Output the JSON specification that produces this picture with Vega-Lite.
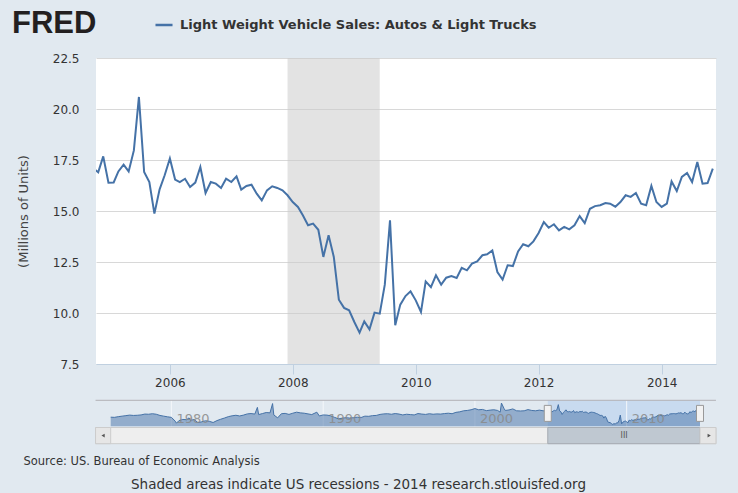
{
  "$schema": "https://vega.github.io/schema/vega-lite/v6.json",
  "width": 620,
  "height": 306,
  "autosize": {"type": "none"},
  "padding": {"left": 96, "top": 58, "right": 22, "bottom": 129},
  "background": "#e1e9f0",
  "config": {"view": {"fill": "#ffffff", "stroke": null}, "font": "DejaVu Sans"},
  "datasets": {
    "one": [{}],
    "rec": [{"start": "2007-12-01", "end": "2009-06-01"}],
    "decades": [
      {"d": "1980-01-01", "label": "1980"},
      {"d": "1990-01-01", "label": "1990"},
      {"d": "2000-01-01", "label": "2000"},
      {"d": "2010-01-01", "label": "2010"}
    ],
    "main": [
      {"date": "2004-10-01", "value": 17.1},
      {"date": "2004-11-01", "value": 16.9},
      {"date": "2004-12-01", "value": 17.68},
      {"date": "2005-01-01", "value": 16.39},
      {"date": "2005-02-01", "value": 16.4},
      {"date": "2005-03-01", "value": 16.94},
      {"date": "2005-04-01", "value": 17.27},
      {"date": "2005-05-01", "value": 16.94},
      {"date": "2005-06-01", "value": 17.97},
      {"date": "2005-07-01", "value": 20.59},
      {"date": "2005-08-01", "value": 16.91},
      {"date": "2005-09-01", "value": 16.42},
      {"date": "2005-10-01", "value": 14.87},
      {"date": "2005-11-01", "value": 16.06},
      {"date": "2005-12-01", "value": 16.75},
      {"date": "2006-01-01", "value": 17.57},
      {"date": "2006-02-01", "value": 16.54},
      {"date": "2006-03-01", "value": 16.42},
      {"date": "2006-04-01", "value": 16.58},
      {"date": "2006-05-01", "value": 16.18},
      {"date": "2006-06-01", "value": 16.39},
      {"date": "2006-07-01", "value": 17.16},
      {"date": "2006-08-01", "value": 15.88},
      {"date": "2006-09-01", "value": 16.42},
      {"date": "2006-10-01", "value": 16.34},
      {"date": "2006-11-01", "value": 16.13},
      {"date": "2006-12-01", "value": 16.58},
      {"date": "2007-01-01", "value": 16.42},
      {"date": "2007-02-01", "value": 16.7},
      {"date": "2007-03-01", "value": 16.05},
      {"date": "2007-04-01", "value": 16.23},
      {"date": "2007-05-01", "value": 16.29},
      {"date": "2007-06-01", "value": 15.85},
      {"date": "2007-07-01", "value": 15.52},
      {"date": "2007-08-01", "value": 16.01},
      {"date": "2007-09-01", "value": 16.21},
      {"date": "2007-10-01", "value": 16.13},
      {"date": "2007-11-01", "value": 16.01},
      {"date": "2007-12-01", "value": 15.77},
      {"date": "2008-01-01", "value": 15.44},
      {"date": "2008-02-01", "value": 15.2},
      {"date": "2008-03-01", "value": 14.79},
      {"date": "2008-04-01", "value": 14.3},
      {"date": "2008-05-01", "value": 14.38},
      {"date": "2008-06-01", "value": 14.08},
      {"date": "2008-07-01", "value": 12.75},
      {"date": "2008-08-01", "value": 13.81},
      {"date": "2008-09-01", "value": 12.75},
      {"date": "2008-10-01", "value": 10.65},
      {"date": "2008-11-01", "value": 10.25},
      {"date": "2008-12-01", "value": 10.13},
      {"date": "2009-01-01", "value": 9.56},
      {"date": "2009-02-01", "value": 9.04},
      {"date": "2009-03-01", "value": 9.59},
      {"date": "2009-04-01", "value": 9.2},
      {"date": "2009-05-01", "value": 10.02},
      {"date": "2009-06-01", "value": 9.97},
      {"date": "2009-07-01", "value": 11.39},
      {"date": "2009-08-01", "value": 14.54},
      {"date": "2009-09-01", "value": 9.4},
      {"date": "2009-10-01", "value": 10.41},
      {"date": "2009-11-01", "value": 10.83},
      {"date": "2009-12-01", "value": 11.06},
      {"date": "2010-01-01", "value": 10.62},
      {"date": "2010-02-01", "value": 10.05},
      {"date": "2010-03-01", "value": 11.55},
      {"date": "2010-04-01", "value": 11.27},
      {"date": "2010-05-01", "value": 11.85},
      {"date": "2010-06-01", "value": 11.39},
      {"date": "2010-07-01", "value": 11.73},
      {"date": "2010-08-01", "value": 11.81},
      {"date": "2010-09-01", "value": 11.72},
      {"date": "2010-10-01", "value": 12.21},
      {"date": "2010-11-01", "value": 12.09},
      {"date": "2010-12-01", "value": 12.42},
      {"date": "2011-01-01", "value": 12.53},
      {"date": "2011-02-01", "value": 12.83},
      {"date": "2011-03-01", "value": 12.88},
      {"date": "2011-04-01", "value": 13.07},
      {"date": "2011-05-01", "value": 12.01},
      {"date": "2011-06-01", "value": 11.64},
      {"date": "2011-07-01", "value": 12.34},
      {"date": "2011-08-01", "value": 12.3},
      {"date": "2011-09-01", "value": 13.02},
      {"date": "2011-10-01", "value": 13.37},
      {"date": "2011-11-01", "value": 13.27},
      {"date": "2011-12-01", "value": 13.51},
      {"date": "2012-01-01", "value": 13.92},
      {"date": "2012-02-01", "value": 14.46},
      {"date": "2012-03-01", "value": 14.18},
      {"date": "2012-04-01", "value": 14.35},
      {"date": "2012-05-01", "value": 14.05},
      {"date": "2012-06-01", "value": 14.22},
      {"date": "2012-07-01", "value": 14.1},
      {"date": "2012-08-01", "value": 14.3},
      {"date": "2012-09-01", "value": 14.75},
      {"date": "2012-10-01", "value": 14.41},
      {"date": "2012-11-01", "value": 15.11},
      {"date": "2012-12-01", "value": 15.24},
      {"date": "2013-01-01", "value": 15.28},
      {"date": "2013-02-01", "value": 15.39},
      {"date": "2013-03-01", "value": 15.36},
      {"date": "2013-04-01", "value": 15.21},
      {"date": "2013-05-01", "value": 15.44},
      {"date": "2013-06-01", "value": 15.77},
      {"date": "2013-07-01", "value": 15.69},
      {"date": "2013-08-01", "value": 15.88},
      {"date": "2013-09-01", "value": 15.36},
      {"date": "2013-10-01", "value": 15.28},
      {"date": "2013-11-01", "value": 16.23},
      {"date": "2013-12-01", "value": 15.44},
      {"date": "2014-01-01", "value": 15.2},
      {"date": "2014-02-01", "value": 15.36},
      {"date": "2014-03-01", "value": 16.45},
      {"date": "2014-04-01", "value": 15.98},
      {"date": "2014-05-01", "value": 16.67},
      {"date": "2014-06-01", "value": 16.86},
      {"date": "2014-07-01", "value": 16.42},
      {"date": "2014-08-01", "value": 17.4},
      {"date": "2014-09-01", "value": 16.34},
      {"date": "2014-10-01", "value": 16.37},
      {"date": "2014-11-01", "value": 17.08}
    ],
    "hist": [
      {"date": "1976-01-01", "value": 13.3},
      {"date": "1976-04-01", "value": 13.2},
      {"date": "1976-07-01", "value": 13.6},
      {"date": "1976-10-01", "value": 13.9},
      {"date": "1977-01-01", "value": 14.2},
      {"date": "1977-04-01", "value": 14.5},
      {"date": "1977-07-01", "value": 14.3},
      {"date": "1977-10-01", "value": 14.4},
      {"date": "1978-01-01", "value": 14.6},
      {"date": "1978-04-01", "value": 15.1},
      {"date": "1978-07-01", "value": 15.0},
      {"date": "1978-10-01", "value": 15.3},
      {"date": "1979-01-01", "value": 15.0},
      {"date": "1979-04-01", "value": 14.3},
      {"date": "1979-07-01", "value": 13.9},
      {"date": "1979-10-01", "value": 13.5},
      {"date": "1980-01-01", "value": 13.2},
      {"date": "1980-04-01", "value": 11.0},
      {"date": "1980-05-01", "value": 9.8},
      {"date": "1980-07-01", "value": 11.3},
      {"date": "1980-10-01", "value": 12.0},
      {"date": "1981-01-01", "value": 11.8},
      {"date": "1981-03-01", "value": 12.9},
      {"date": "1981-04-01", "value": 11.5},
      {"date": "1981-07-01", "value": 11.9},
      {"date": "1981-10-01", "value": 10.2},
      {"date": "1982-01-01", "value": 10.6},
      {"date": "1982-04-01", "value": 11.2},
      {"date": "1982-07-01", "value": 10.9},
      {"date": "1982-10-01", "value": 10.2},
      {"date": "1983-01-01", "value": 11.3},
      {"date": "1983-04-01", "value": 12.1},
      {"date": "1983-07-01", "value": 12.8},
      {"date": "1983-10-01", "value": 13.6},
      {"date": "1984-01-01", "value": 14.1},
      {"date": "1984-04-01", "value": 14.4},
      {"date": "1984-07-01", "value": 14.0},
      {"date": "1984-10-01", "value": 14.5},
      {"date": "1985-01-01", "value": 15.2},
      {"date": "1985-04-01", "value": 15.4},
      {"date": "1985-07-01", "value": 15.1},
      {"date": "1985-09-01", "value": 19.0},
      {"date": "1985-10-01", "value": 14.8},
      {"date": "1986-01-01", "value": 15.4},
      {"date": "1986-04-01", "value": 16.0},
      {"date": "1986-07-01", "value": 15.8},
      {"date": "1986-09-01", "value": 21.2},
      {"date": "1986-10-01", "value": 14.6},
      {"date": "1987-01-01", "value": 12.9},
      {"date": "1987-04-01", "value": 15.3},
      {"date": "1987-07-01", "value": 15.5},
      {"date": "1987-10-01", "value": 14.9},
      {"date": "1988-01-01", "value": 15.6},
      {"date": "1988-04-01", "value": 16.2},
      {"date": "1988-07-01", "value": 15.8},
      {"date": "1988-10-01", "value": 15.6},
      {"date": "1989-01-01", "value": 15.2},
      {"date": "1989-04-01", "value": 14.8},
      {"date": "1989-08-01", "value": 16.2},
      {"date": "1989-10-01", "value": 14.0},
      {"date": "1990-01-01", "value": 14.6},
      {"date": "1990-04-01", "value": 14.5},
      {"date": "1990-07-01", "value": 14.1},
      {"date": "1990-10-01", "value": 13.2},
      {"date": "1991-01-01", "value": 12.4},
      {"date": "1991-04-01", "value": 12.7},
      {"date": "1991-07-01", "value": 13.0},
      {"date": "1991-10-01", "value": 12.8},
      {"date": "1992-01-01", "value": 13.0},
      {"date": "1992-04-01", "value": 13.3},
      {"date": "1992-07-01", "value": 13.1},
      {"date": "1992-10-01", "value": 13.9},
      {"date": "1993-01-01", "value": 13.8},
      {"date": "1993-04-01", "value": 14.2},
      {"date": "1993-07-01", "value": 14.3},
      {"date": "1993-10-01", "value": 14.9},
      {"date": "1994-01-01", "value": 15.2},
      {"date": "1994-04-01", "value": 15.3},
      {"date": "1994-07-01", "value": 15.0},
      {"date": "1994-10-01", "value": 15.4},
      {"date": "1995-01-01", "value": 15.1},
      {"date": "1995-04-01", "value": 14.6},
      {"date": "1995-07-01", "value": 15.0},
      {"date": "1995-10-01", "value": 14.8},
      {"date": "1996-01-01", "value": 14.6},
      {"date": "1996-04-01", "value": 15.4},
      {"date": "1996-07-01", "value": 15.1},
      {"date": "1996-10-01", "value": 14.9},
      {"date": "1997-01-01", "value": 15.3},
      {"date": "1997-04-01", "value": 15.0},
      {"date": "1997-07-01", "value": 15.2},
      {"date": "1997-10-01", "value": 15.1},
      {"date": "1998-01-01", "value": 15.4},
      {"date": "1998-04-01", "value": 15.6},
      {"date": "1998-07-01", "value": 15.3},
      {"date": "1998-10-01", "value": 16.1},
      {"date": "1999-01-01", "value": 16.4},
      {"date": "1999-04-01", "value": 17.0},
      {"date": "1999-07-01", "value": 17.2},
      {"date": "1999-10-01", "value": 17.6},
      {"date": "2000-01-01", "value": 18.3},
      {"date": "2000-04-01", "value": 17.6},
      {"date": "2000-07-01", "value": 17.8},
      {"date": "2000-10-01", "value": 17.1},
      {"date": "2001-01-01", "value": 17.4},
      {"date": "2001-04-01", "value": 17.6},
      {"date": "2001-07-01", "value": 17.2},
      {"date": "2001-09-01", "value": 16.2},
      {"date": "2001-10-01", "value": 21.5},
      {"date": "2001-12-01", "value": 18.4},
      {"date": "2002-01-01", "value": 17.2},
      {"date": "2002-04-01", "value": 17.5},
      {"date": "2002-07-01", "value": 18.1},
      {"date": "2002-10-01", "value": 17.0},
      {"date": "2003-01-01", "value": 16.9},
      {"date": "2003-04-01", "value": 17.0},
      {"date": "2003-07-01", "value": 17.7},
      {"date": "2003-10-01", "value": 17.2},
      {"date": "2004-01-01", "value": 17.0},
      {"date": "2004-04-01", "value": 17.4},
      {"date": "2004-07-01", "value": 17.0},
      {"date": "2004-10-01", "value": 17.1}
    ]
  },
  "layer": [
    {
      "data": {"name": "rec"},
      "mark": {"type": "rect", "color": "#cccccc", "opacity": 0.55},
      "encoding": {
        "x": {
          "field": "start",
          "type": "temporal",
          "scale": {"domain": [{"year": 2004, "month": 10, "date": 19}, {"year": 2014, "month": 11, "date": 20}]},
          "axis": {
            "orient": "bottom",
            "values": [{"year": 2006}, {"year": 2008}, {"year": 2010}, {"year": 2012}, {"year": 2014}],
            "format": "%Y",
            "grid": false,
            "domainColor": "#c0d0e0",
            "tickColor": "#c0d0e0",
            "tickSize": 10,
            "labelFontSize": 12,
            "labelColor": "#333333",
            "labelPadding": 3,
            "labelFlush": false,
            "title": "Shaded areas indicate US recessions - 2014 research.stlouisfed.org",
            "titleX": 262,
            "titleY": 120,
            "titleAlign": "center",
            "titleBaseline": "middle",
            "titleFontSize": 13.5,
            "titleFontWeight": "normal",
            "titleColor": "#333333"
          }
        },
        "x2": {"field": "end"}
      }
    },
    {
      "data": {"name": "main"},
      "mark": {"type": "line", "strokeWidth": 2, "clip": true},
      "encoding": {
        "x": {"field": "date", "type": "temporal", "scale": {"domain": [{"year": 2004, "month": 10, "date": 19}, {"year": 2014, "month": 11, "date": 20}]}, "axis": null},
        "y": {
          "field": "value",
          "type": "quantitative",
          "scale": {"domain": [7.5, 22.5], "nice": false, "zero": false},
          "axis": {
            "orient": "left",
            "values": [7.5, 10, 12.5, 15, 17.5, 20, 22.5],
            "format": ".1f",
            "domain": false,
            "ticks": false,
            "grid": true,
            "gridColor": "#d8d8d8",
            "labelPadding": 17,
            "labelFontSize": 12,
            "labelColor": "#333333",
            "title": "(Millions of Units)",
            "titleX": -73,
            "titleY": 153,
            "titleAngle": -90,
            "titleAlign": "center",
            "titleBaseline": "middle",
            "titleFontSize": 13,
            "titleFontWeight": "normal",
            "titleColor": "#444444"
          }
        },
        "color": {
          "datum": "Light Weight Vehicle Sales: Autos & Light Trucks",
          "scale": {"range": ["#4572a7"]},
          "legend": {
            "orient": "none",
            "legendX": -84,
            "legendY": -43,
            "title": "FRED",
            "titleOrient": "left",
            "titleFont": "Liberation Sans",
            "titleFontSize": 31,
            "titleFontWeight": "bold",
            "titleColor": "#231f20",
            "titlePadding": 57,
            "labelFont": "DejaVu Sans",
            "labelFontSize": 13,
            "labelFontWeight": "bold",
            "labelColor": "#333333",
            "labelLimit": 600,
            "labelOffset": 6,
            "symbolType": "stroke",
            "symbolSize": 290,
            "symbolStrokeWidth": 2.5,
            "padding": 0
          }
        }
      }
    },
    {
      "data": {"name": "one"},
      "mark": {"type": "rect", "color": "#c8daef"},
      "encoding": {
        "x": {
          "datum": {"year": 2004, "month": 10, "date": 20},
          "type": "temporal",
          "scale": {"domain": [{"year": 1976, "month": 1, "date": 1}, {"year": 2014, "month": 11, "date": 1}], "range": [14.7, 604]},
          "axis": {
            "orient": "bottom",
            "labels": false,
            "ticks": false,
            "domain": false,
            "grid": false,
            "title": "Source: US. Bureau of Economic Analysis",
            "titleX": -73,
            "titleY": 97,
            "titleAlign": "left",
            "titleBaseline": "middle",
            "titleFontSize": 11.5,
            "titleFontWeight": "normal",
            "titleColor": "#333333"
          }
        },
        "x2": {"datum": {"year": 2014, "month": 11, "date": 1}},
        "y": {"datum": 8.0, "type": "quantitative", "scale": {"domain": [8.0, 23.1], "range": [368.3, 342.3], "nice": false, "zero": false}, "axis": null},
        "y2": {"datum": 23.1}
      }
    },
    {
      "data": {"name": "decades"},
      "mark": {"type": "rule", "color": "#f4f7fa", "strokeWidth": 1},
      "encoding": {
        "x": {"field": "d", "type": "temporal", "scale": {"domain": [{"year": 1976, "month": 1, "date": 1}, {"year": 2014, "month": 11, "date": 1}], "range": [14.7, 604]}, "axis": null},
        "y": {"datum": 8.0, "type": "quantitative", "scale": {"domain": [8.0, 23.1], "range": [368.3, 342.3], "nice": false, "zero": false}, "axis": null},
        "y2": {"datum": 23.1}
      }
    },
    {
      "data": {"name": "hist"},
      "mark": {"type": "area", "color": "#4572a7", "opacity": 0.5},
      "encoding": {
        "x": {"field": "date", "type": "temporal", "scale": {"domain": [{"year": 1976, "month": 1, "date": 1}, {"year": 2014, "month": 11, "date": 1}], "range": [14.7, 604]}, "axis": null},
        "y": {"field": "value", "type": "quantitative", "scale": {"domain": [8.0, 23.1], "range": [368.3, 342.3], "nice": false, "zero": false}, "axis": null},
        "y2": {"datum": 8.0}
      }
    },
    {
      "data": {"name": "hist"},
      "mark": {"type": "line", "color": "#4572a7", "strokeWidth": 1},
      "encoding": {
        "x": {"field": "date", "type": "temporal", "scale": {"domain": [{"year": 1976, "month": 1, "date": 1}, {"year": 2014, "month": 11, "date": 1}], "range": [14.7, 604]}, "axis": null},
        "y": {"field": "value", "type": "quantitative", "scale": {"domain": [8.0, 23.1], "range": [368.3, 342.3], "nice": false, "zero": false}, "axis": null}
      }
    },
    {
      "data": {"name": "main"},
      "mark": {"type": "area", "color": "#4572a7", "opacity": 0.5},
      "encoding": {
        "x": {"field": "date", "type": "temporal", "scale": {"domain": [{"year": 1976, "month": 1, "date": 1}, {"year": 2014, "month": 11, "date": 1}], "range": [14.7, 604]}, "axis": null},
        "y": {"field": "value", "type": "quantitative", "scale": {"domain": [8.0, 23.1], "range": [368.3, 342.3], "nice": false, "zero": false}, "axis": null},
        "y2": {"datum": 8.0}
      }
    },
    {
      "data": {"name": "main"},
      "mark": {"type": "line", "color": "#4572a7", "strokeWidth": 1},
      "encoding": {
        "x": {"field": "date", "type": "temporal", "scale": {"domain": [{"year": 1976, "month": 1, "date": 1}, {"year": 2014, "month": 11, "date": 1}], "range": [14.7, 604]}, "axis": null},
        "y": {"field": "value", "type": "quantitative", "scale": {"domain": [8.0, 23.1], "range": [368.3, 342.3], "nice": false, "zero": false}, "axis": null}
      }
    },
    {
      "data": {"name": "decades"},
      "mark": {"type": "text", "align": "left", "baseline": "middle", "dx": 5, "fontSize": 13, "color": "#8a8a8a", "opacity": 0.85},
      "encoding": {
        "x": {"field": "d", "type": "temporal", "scale": {"domain": [{"year": 1976, "month": 1, "date": 1}, {"year": 2014, "month": 11, "date": 1}], "range": [14.7, 604]}, "axis": null},
        "y": {"datum": 12.4, "type": "quantitative", "scale": {"domain": [8.0, 23.1], "range": [368.3, 342.3], "nice": false, "zero": false}, "axis": null},
        "text": {"field": "label"}
      }
    },
    {
      "data": {"name": "one"},
      "mark": {"type": "rule", "color": "#b2b1b6", "strokeWidth": 1},
      "encoding": {
        "x": {"datum": {"year": 1975, "month": 1, "date": 1}, "type": "temporal", "scale": {"domain": [{"year": 1976, "month": 1, "date": 1}, {"year": 2014, "month": 11, "date": 1}], "range": [14.7, 604]}, "axis": null},
        "x2": {"datum": {"year": 2015, "month": 11, "date": 20}},
        "y": {"datum": 23.1, "type": "quantitative", "scale": {"domain": [8.0, 23.1], "range": [368.3, 342.3], "nice": false, "zero": false}, "axis": null}
      }
    },
    {
      "data": {"name": "one"},
      "mark": {"type": "rect", "fill": "#eeeeee", "stroke": "#cccccc", "strokeWidth": 1},
      "encoding": {
        "x": {"datum": {"year": 1975, "month": 1, "date": 1}, "type": "temporal", "scale": {"domain": [{"year": 1976, "month": 1, "date": 1}, {"year": 2014, "month": 11, "date": 1}], "range": [14.7, 604]}, "axis": null},
        "x2": {"datum": {"year": 2015, "month": 11, "date": 20}},
        "y": {"datum": 7.3, "type": "quantitative", "scale": {"domain": [8.0, 23.1], "range": [368.3, 342.3], "nice": false, "zero": false}, "axis": null},
        "y2": {"datum": -2.1}
      }
    },
    {
      "data": {"name": "one"},
      "mark": {"type": "rect", "fill": "#bfc8d1", "stroke": "#a5abb2", "strokeWidth": 1},
      "encoding": {
        "x": {"datum": {"year": 2004, "month": 10, "date": 20}, "type": "temporal", "scale": {"domain": [{"year": 1976, "month": 1, "date": 1}, {"year": 2014, "month": 11, "date": 1}], "range": [14.7, 604]}, "axis": null},
        "x2": {"datum": {"year": 2014, "month": 11, "date": 1}},
        "y": {"datum": 7.3, "type": "quantitative", "scale": {"domain": [8.0, 23.1], "range": [368.3, 342.3], "nice": false, "zero": false}, "axis": null},
        "y2": {"datum": -2.1}
      }
    },
    {
      "data": {"name": "one"},
      "mark": {"type": "rect", "fill": "#e6e6e6", "stroke": "#cccccc", "strokeWidth": 1},
      "encoding": {
        "x": {"datum": {"year": 1975, "month": 1, "date": 1}, "type": "temporal", "scale": {"domain": [{"year": 1976, "month": 1, "date": 1}, {"year": 2014, "month": 11, "date": 1}], "range": [14.7, 604]}, "axis": null},
        "x2": {"datum": {"year": 1976, "month": 1, "date": 1}},
        "y": {"datum": 7.3, "type": "quantitative", "scale": {"domain": [8.0, 23.1], "range": [368.3, 342.3], "nice": false, "zero": false}, "axis": null},
        "y2": {"datum": -2.1}
      }
    },
    {
      "data": {"name": "one"},
      "mark": {"type": "rect", "fill": "#e6e6e6", "stroke": "#cccccc", "strokeWidth": 1},
      "encoding": {
        "x": {"datum": {"year": 2014, "month": 11, "date": 1}, "type": "temporal", "scale": {"domain": [{"year": 1976, "month": 1, "date": 1}, {"year": 2014, "month": 11, "date": 1}], "range": [14.7, 604]}, "axis": null},
        "x2": {"datum": {"year": 2015, "month": 11, "date": 20}},
        "y": {"datum": 7.3, "type": "quantitative", "scale": {"domain": [8.0, 23.1], "range": [368.3, 342.3], "nice": false, "zero": false}, "axis": null},
        "y2": {"datum": -2.1}
      }
    },
    {
      "data": {"name": "one"},
      "mark": {"type": "point", "shape": "triangle-left", "filled": true, "size": 14, "color": "#555555", "opacity": 1},
      "encoding": {
        "x": {"datum": {"year": 1975, "month": 7, "date": 1}, "type": "temporal", "scale": {"domain": [{"year": 1976, "month": 1, "date": 1}, {"year": 2014, "month": 11, "date": 1}], "range": [14.7, 604]}, "axis": null},
        "y": {"datum": 2.6, "type": "quantitative", "scale": {"domain": [8.0, 23.1], "range": [368.3, 342.3], "nice": false, "zero": false}, "axis": null}
      }
    },
    {
      "data": {"name": "one"},
      "mark": {"type": "point", "shape": "triangle-right", "filled": true, "size": 14, "color": "#555555", "opacity": 1},
      "encoding": {
        "x": {"datum": {"year": 2015, "month": 6, "date": 10}, "type": "temporal", "scale": {"domain": [{"year": 1976, "month": 1, "date": 1}, {"year": 2014, "month": 11, "date": 1}], "range": [14.7, 604]}, "axis": null},
        "y": {"datum": 2.6, "type": "quantitative", "scale": {"domain": [8.0, 23.1], "range": [368.3, 342.3], "nice": false, "zero": false}, "axis": null}
      }
    },
    {
      "data": {"name": "one"},
      "mark": {"type": "text", "text": "III", "fontSize": 8, "color": "#555555", "align": "center", "baseline": "middle"},
      "encoding": {
        "x": {"datum": {"year": 2009, "month": 11, "date": 1}, "type": "temporal", "scale": {"domain": [{"year": 1976, "month": 1, "date": 1}, {"year": 2014, "month": 11, "date": 1}], "range": [14.7, 604]}, "axis": null},
        "y": {"datum": 2.6, "type": "quantitative", "scale": {"domain": [8.0, 23.1], "range": [368.3, 342.3], "nice": false, "zero": false}, "axis": null}
      }
    },
    {
      "data": {"name": "one"},
      "mark": {"type": "tick", "orient": "vertical", "size": 16, "thickness": 7, "color": "#f2f2f2", "stroke": "#999999", "strokeWidth": 1, "opacity": 1},
      "encoding": {
        "x": {"datum": {"year": 2004, "month": 10, "date": 20}, "type": "temporal", "scale": {"domain": [{"year": 1976, "month": 1, "date": 1}, {"year": 2014, "month": 11, "date": 1}], "range": [14.7, 604]}, "axis": null},
        "y": {"datum": 15.5, "type": "quantitative", "scale": {"domain": [8.0, 23.1], "range": [368.3, 342.3], "nice": false, "zero": false}, "axis": null}
      }
    },
    {
      "data": {"name": "one"},
      "mark": {"type": "tick", "orient": "vertical", "size": 16, "thickness": 7, "color": "#f2f2f2", "stroke": "#999999", "strokeWidth": 1, "opacity": 1},
      "encoding": {
        "x": {"datum": {"year": 2014, "month": 11, "date": 1}, "type": "temporal", "scale": {"domain": [{"year": 1976, "month": 1, "date": 1}, {"year": 2014, "month": 11, "date": 1}], "range": [14.7, 604]}, "axis": null},
        "y": {"datum": 15.5, "type": "quantitative", "scale": {"domain": [8.0, 23.1], "range": [368.3, 342.3], "nice": false, "zero": false}, "axis": null}
      }
    }
  ],
  "resolve": {"scale": {"x": "independent", "y": "independent"}}
}
